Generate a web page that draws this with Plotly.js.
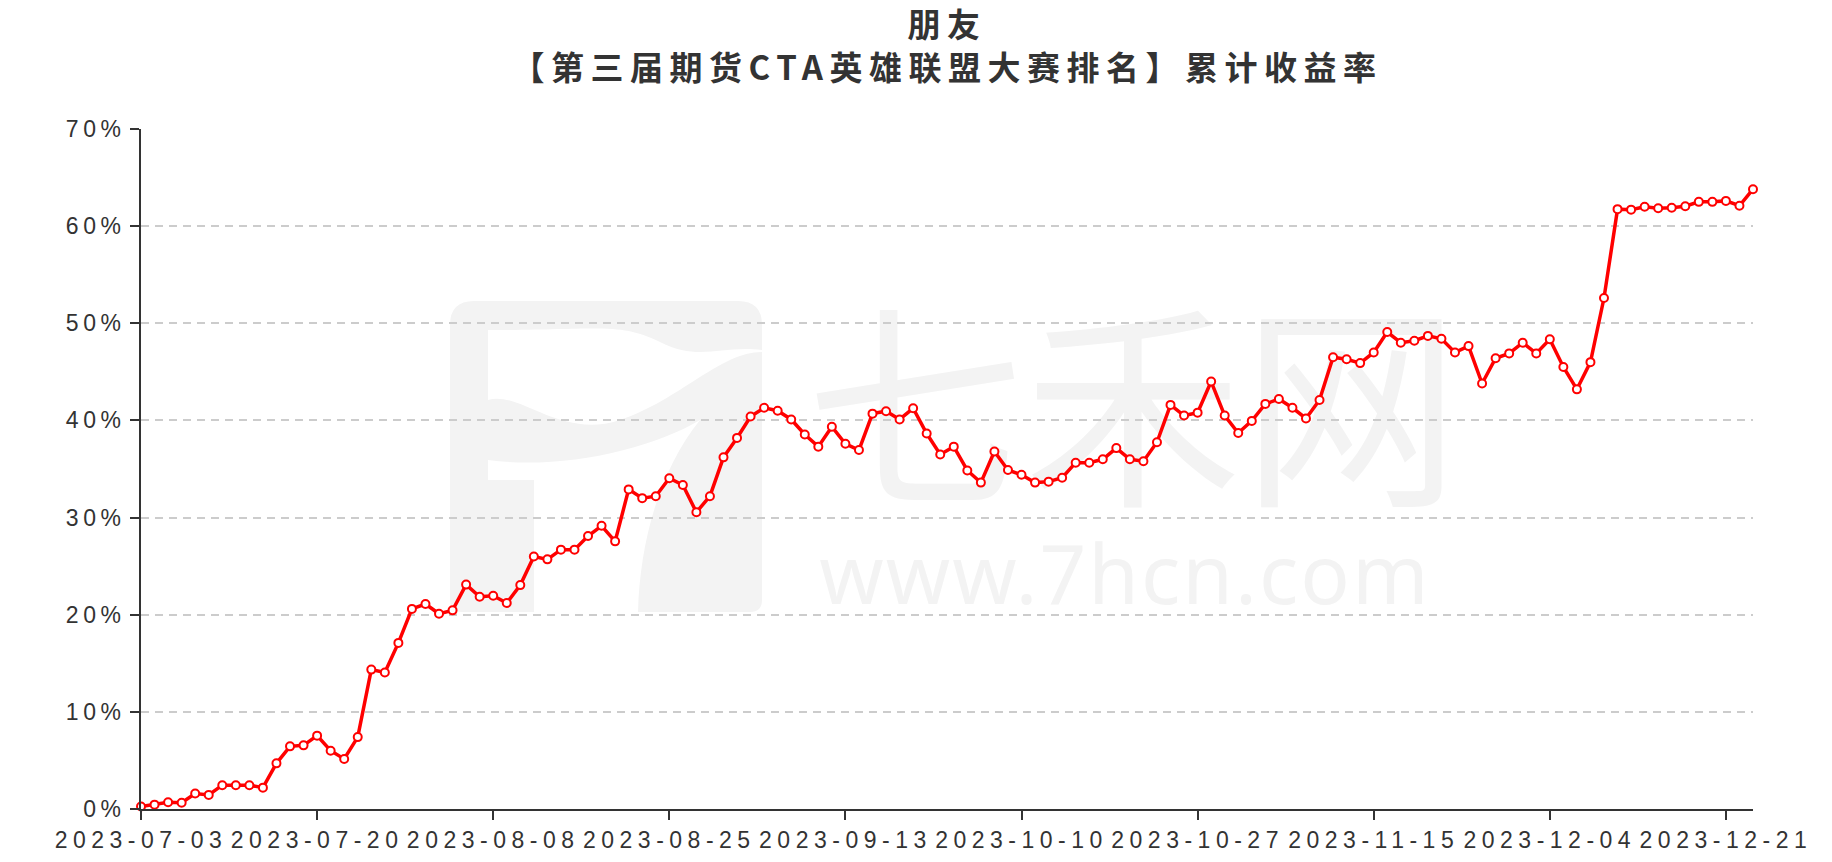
<!DOCTYPE html>
<html>
<head>
<meta charset="utf-8">
<script src="https://cdn.plot.ly/plotly-3.0.1.min.js"></script>
<style>
  html, body { margin: 0; padding: 0; background: #ffffff; }
  #wrap { position: relative; width: 1832px; height: 862px; }
  #wm { position: absolute; left: 0; top: 0; z-index: 0; }
  #chart { position: absolute; left: 0; top: 0; width: 1832px; height: 862px; z-index: 1; }
  #chart .gtitle { letter-spacing: 6.5px; }
  #chart .xtick text { letter-spacing: 5.5px; }
  #chart .ytick text { letter-spacing: 4.5px; }
</style>
</head>
<body>
<div id="wrap">
  <svg id="wm" width="1832" height="862" xmlns="http://www.w3.org/2000/svg">
    <g fill="#f3f3f3">
      <path d="M450,330 L450,325 Q450,301 474,301 L738,301 Q762,301 762,325 L762,350 C720,345 700,362 660,342 C620,322 600,330 488,330 Z"/>
      <path d="M450,330 L488,330 L488,480 L534,480 L534,612 L462,612 Q450,612 450,600 Z"/>
      <path d="M488,400 C520,390 560,440 620,420 C680,400 720,352 762,352 L762,600 Q762,612 750,612 L638,612 C640,540 660,470 700,420 C650,450 560,470 488,460 Z"/>
      <text x="1133" y="490" font-family="Noto Sans CJK SC" font-size="218" text-anchor="middle">七禾网</text>
      <text x="1125" y="604" font-family="Noto Sans" font-size="82" letter-spacing="2" text-anchor="middle">www.7hcn.com</text>
    </g>
  </svg>
  <div id="chart"></div>
</div>
<script>
const dates = [
  "2023-07-03","2023-07-04","2023-07-05","2023-07-06","2023-07-07",
  "2023-07-10","2023-07-11","2023-07-12","2023-07-13","2023-07-14",
  "2023-07-17","2023-07-18","2023-07-19","2023-07-20","2023-07-21",
  "2023-07-24","2023-07-25","2023-07-26","2023-07-27","2023-07-28",
  "2023-07-31",
  "2023-08-01","2023-08-02","2023-08-03","2023-08-04",
  "2023-08-07","2023-08-08","2023-08-09","2023-08-10","2023-08-11",
  "2023-08-14","2023-08-15","2023-08-16","2023-08-17","2023-08-18",
  "2023-08-21","2023-08-22","2023-08-23","2023-08-24","2023-08-25",
  "2023-08-28","2023-08-29","2023-08-30","2023-08-31",
  "2023-09-01",
  "2023-09-04","2023-09-05","2023-09-06","2023-09-07","2023-09-08",
  "2023-09-11","2023-09-12","2023-09-13","2023-09-14","2023-09-15",
  "2023-09-18","2023-09-19","2023-09-20","2023-09-21","2023-09-22",
  "2023-09-25","2023-09-26","2023-09-27","2023-09-28",
  "2023-10-09","2023-10-10","2023-10-11","2023-10-12","2023-10-13",
  "2023-10-16","2023-10-17","2023-10-18","2023-10-19","2023-10-20",
  "2023-10-23","2023-10-24","2023-10-25","2023-10-26","2023-10-27",
  "2023-10-30","2023-10-31",
  "2023-11-01","2023-11-02","2023-11-03",
  "2023-11-06","2023-11-07","2023-11-08","2023-11-09","2023-11-10",
  "2023-11-13","2023-11-14","2023-11-15","2023-11-16","2023-11-17",
  "2023-11-20","2023-11-21","2023-11-22","2023-11-23","2023-11-24",
  "2023-11-27","2023-11-28","2023-11-29","2023-11-30",
  "2023-12-01",
  "2023-12-04","2023-12-05","2023-12-06","2023-12-07","2023-12-08",
  "2023-12-11","2023-12-12","2023-12-13","2023-12-14","2023-12-15",
  "2023-12-18","2023-12-19","2023-12-20","2023-12-21","2023-12-22",
  "2023-12-25"
];

const cumReturn = [
  0.25, 0.45, 0.7, 0.65, 1.6, 1.45, 2.45, 2.45, 2.45, 2.2,
  4.7, 6.45, 6.55, 7.55, 6.0, 5.15, 7.4, 14.35, 14.05, 17.1,
  20.6, 21.1, 20.1, 20.45, 23.1, 21.85, 21.95, 21.2, 23.05, 26.0,
  25.7, 26.7, 26.7, 28.1, 29.15, 27.55, 32.9, 32.0, 32.2, 34.05,
  33.35, 30.55, 32.2, 36.2, 38.2, 40.4, 41.3, 41.0, 40.1, 38.55,
  37.3, 39.35, 37.6, 36.95, 40.7, 40.95, 40.1, 41.25, 38.65, 36.5,
  37.3, 34.85, 33.6, 36.8, 34.9, 34.4, 33.6, 33.7, 34.1, 35.65,
  35.65, 36.0, 37.15, 36.0, 35.8, 37.75, 41.6, 40.5, 40.8, 44.0,
  40.5, 38.7, 39.95, 41.7, 42.2, 41.3, 40.2, 42.1, 46.5, 46.3,
  45.9, 47.0, 49.1, 48.0, 48.2, 48.7, 48.4, 47.0, 47.65, 43.8,
  46.4, 46.9, 48.0, 46.9, 48.35, 45.5, 43.2, 46.0, 52.6, 61.75,
  61.7, 62.0, 61.85, 61.9, 62.05, 62.5, 62.5, 62.6, 62.1, 63.8
];

const xTickLabels = [
  "2023-07-03","2023-07-20","2023-08-08","2023-08-25","2023-09-13",
  "2023-10-10","2023-10-27","2023-11-15","2023-12-04","2023-12-21"
];
const yTickValues = [0, 10, 20, 30, 40, 50, 60, 70];
const yTickLabels = ["0%", "10%", "20%", "30%", "40%", "50%", "60%", "70%"];

const titleLine1 = "朋友";
const titleLine2 = "【第三届期货CTA英雄联盟大赛排名】累计收益率";

const trace = {
  type: "scatter",
  mode: "lines+markers",
  x: dates,
  y: cumReturn,
  cliponaxis: false,
  line: { color: "#ff0000", width: 3.5 },
  marker: { symbol: "circle", size: 8, color: "#ffffff", line: { color: "#ff0000", width: 2 } },
  hoverinfo: "x+y"
};

const layout = {
  width: 1832,
  height: 862,
  paper_bgcolor: "rgba(0,0,0,0)",
  plot_bgcolor: "rgba(0,0,0,0)",
  margin: { l: 141, r: 79, t: 129, b: 53 },
  showlegend: false,
  title: {
    text: titleLine1 + "<br>" + titleLine2,
    font: { family: "Noto Sans CJK SC", size: 33, color: "#333333", weight: 700 },
    x: 0.5, xref: "paper", xanchor: "center",
    y: 0.957, yref: "container", yanchor: "top"
  },
  xaxis: {
    type: "category",
    range: [0, dates.length - 1],
    tickmode: "array",
    tickvals: xTickLabels,
    ticktext: xTickLabels,
    tickangle: 0,
    showgrid: false,
    zeroline: false,
    showline: true,
    linecolor: "#333333",
    linewidth: 2,
    ticks: "outside",
    ticklen: 9,
    tickwidth: 2,
    tickcolor: "#333333",
    tickfont: { family: "Liberation Sans", size: 23, color: "#333333" },
    fixedrange: true
  },
  yaxis: {
    range: [0, 70],
    autorange: false,
    tickmode: "array",
    tickvals: yTickValues,
    ticktext: yTickLabels,
    showgrid: true,
    gridcolor: "#cccccc",
    gridwidth: 1.5,
    griddash: "8px,6px",
    zeroline: false,
    showline: true,
    linecolor: "#333333",
    linewidth: 2,
    ticks: "outside",
    ticklen: 9,
    tickwidth: 2,
    tickcolor: "#333333",
    tickfont: { family: "Liberation Sans", size: 23, color: "#333333" },
    fixedrange: true
  }
};

Plotly.newPlot("chart", [trace], layout, { displayModeBar: false });
</script>
</body>
</html>
